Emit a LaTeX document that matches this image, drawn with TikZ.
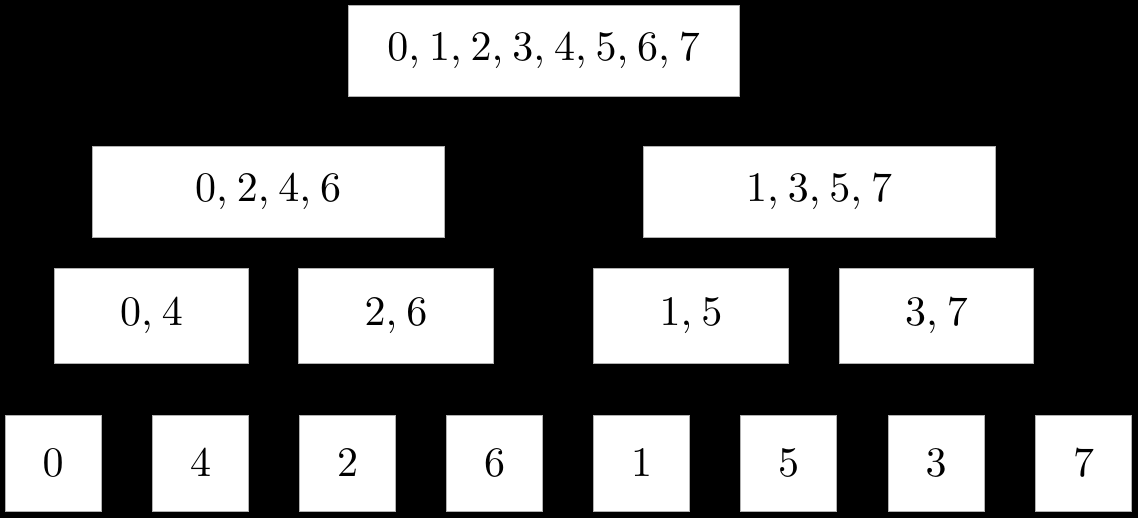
\documentclass[tikz,border=0pt]{standalone}
\font\digfont=cmr10 at 42pt
\newcommand\csep{,\hspace{9pt}}
\begin{document}
\begin{tikzpicture}[x=1pt,y=-1pt,
  box/.style={fill=white, draw=gray!60, line width=0.8pt, inner sep=0pt,
    font=\digfont},
  wide/.style={box, minimum width=#1, minimum height=91pt},
  mid/.style={box, minimum width=194.5pt, minimum height=95.5pt},
  leaf/.style={box, minimum width=96pt, minimum height=96.5pt}]
\fill[black] (0,0) rectangle (1138,518);
\useasboundingbox (0,0) rectangle (1138,518);
% level 1
\node[wide=391pt] (r) at (543.8,50.8) {0\csep 1\csep 2\csep 3\csep 4\csep 5\csep 6\csep 7};
% level 2
\node[wide=352pt] (e) at (268.2,191.8) {0\csep 2\csep 4\csep 6};
\node[wide=352pt] (o) at (819.2,191.8) {1\csep 3\csep 5\csep 7};
% level 3
\node[mid] (a04) at (151.5,316) {0\csep 4};
\node[mid] (a26) at (396,316) {2\csep 6};
\node[mid] (a15) at (691,316) {1\csep 5};
\node[mid] (a37) at (936.5,316) {3\csep 7};
% level 4
\node[leaf] (l0) at (53,463.2) {0};
\node[leaf] (l4) at (200.7,463.2) {4};
\node[leaf] (l2) at (347.5,463.2) {2};
\node[leaf] (l6) at (494.5,463.2) {6};
\node[leaf] (l1) at (641.5,463.2) {1};
\node[leaf] (l5) at (788.5,463.2) {5};
\node[leaf] (l3) at (936,463.2) {3};
\node[leaf] (l7) at (1083.7,463.2) {7};
\end{tikzpicture}
\end{document}
